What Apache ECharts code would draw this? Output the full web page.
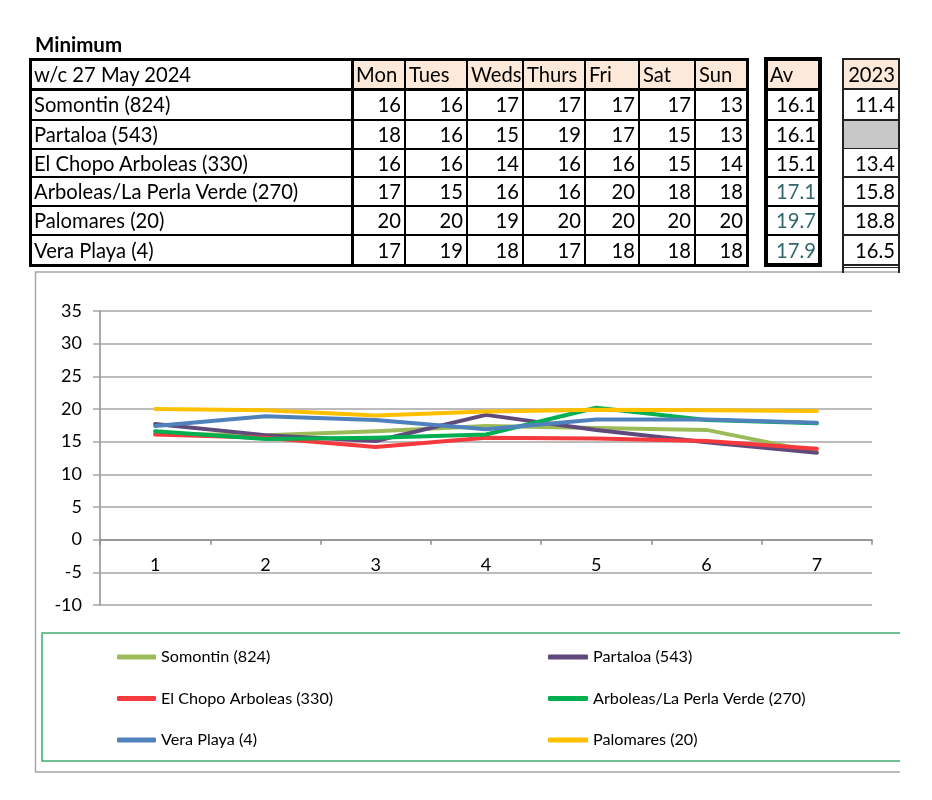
<!DOCTYPE html>
<html>
<head>
<meta charset="utf-8">
<script src="https://cdn.jsdelivr.net/npm/echarts@6/dist/echarts.min.js"></script>
<style>
  html, body { margin:0; padding:0; background:#fff; }
  #chart { position:absolute; left:0; top:0; width:932px; height:800px; }
  #tables { position:absolute; left:0; top:0; width:932px; height:272px; font-family:Lato, sans-serif; z-index:2; }
</style>
</head>
<body>
<div id="chart"></div>
<div id="tables"></div>
<script>
// ---------- data ----------
const title = 'Minimum';
const weekLabel = 'w/c 27 May 2024';
const days = ['Mon', 'Tues', 'Weds', 'Thurs', 'Fri', 'Sat', 'Sun'];
const xLabels = ['1', '2', '3', '4', '5', '6', '7'];
const stations = ['Somontin (824)', 'Partaloa (543)', 'El Chopo Arboleas (330)',
                  'Arboleas/La Perla Verde (270)', 'Palomares (20)', 'Vera Playa (4)'];

// table values as displayed
const tblSomontin  = [16, 16, 17, 17, 17, 17, 13];
const tblPartaloa  = [18, 16, 15, 19, 17, 15, 13];
const tblElChopo   = [16, 16, 14, 16, 16, 15, 14];
const tblArboleas  = [17, 15, 16, 16, 20, 18, 18];
const tblPalomares = [20, 20, 19, 20, 20, 20, 20];
const tblVera      = [17, 19, 18, 17, 18, 18, 18];
const averages     = ['16.1', '16.1', '15.1', '17.1', '19.7', '17.9'];
const year2023     = ['11.4', null, '13.4', '15.8', '18.8', '16.5'];

// chart values (as plotted)
const somontin  = [16.2, 16.0, 16.6, 17.4, 17.1, 16.8, 13.4];
const partaloa  = [17.7, 16.0, 15.1, 19.1, 16.8, 14.9, 13.3];
const elChopo   = [16.1, 15.6, 14.2, 15.6, 15.5, 15.1, 13.9];
const arboleas  = [16.6, 15.4, 15.6, 16.1, 20.2, 18.3, 17.8];
const palomares = [20.0, 19.8, 19.0, 19.6, 19.9, 19.8, 19.7];
const vera      = [17.4, 18.9, 18.3, 16.9, 18.4, 18.4, 17.9];

// ---------- tables (HTML) ----------
const root = document.getElementById('tables');
function addDiv(css, text) {
  const d = document.createElement('div');
  d.style.cssText = 'position:absolute;' + css;
  if (text != null) d.textContent = text;
  root.appendChild(d);
  return d;
}
function drawTable(xs, ys, rows, opt) {
  for (let r = 0; r < rows.length; r++) {
    for (let c = 0; c < rows[r].length; c++) {
      const cl = rows[r][c];
      const x = xs[c], y = ys[r], w = xs[c + 1] - xs[c], h = ys[r + 1] - ys[r];
      if (cl.fill) addDiv(`left:${x}px;top:${y}px;width:${w}px;height:${h}px;background:${cl.fill}`);
      if (cl.t != null) {
        addDiv(`left:${x + 4}px;top:${y}px;width:${w - 8}px;height:${h}px;line-height:${h}px;` +
               `text-align:${cl.align || 'left'};color:${cl.color || '#000'};font-size:20.2px;white-space:nowrap;overflow:visible`, cl.t);
      }
    }
  }
  const x0 = xs[0], x1 = xs[xs.length - 1], y0 = ys[0], y1 = ys[ys.length - 1];
  const vOut0 = opt.v[0] / 2, vOut1 = opt.v[opt.v.length - 1] / 2;
  const hOut0 = opt.h[0] / 2, hOut1 = opt.h[opt.h.length - 1] / 2;
  ys.forEach((y, i) => {
    const t = opt.h[i];
    addDiv(`left:${x0 - vOut0}px;top:${y - t / 2}px;width:${x1 - x0 + vOut0 + vOut1}px;height:${t}px;background:${opt.color}`);
  });
  const yEnd = (opt.extend || y1);
  xs.forEach((x, i) => {
    const t = opt.v[i];
    addDiv(`left:${x - t / 2}px;top:${y0 - hOut0}px;width:${t}px;height:${yEnd - y0 + hOut0 + (opt.extend ? 0 : hOut1)}px;background:${opt.color}`);
  });
}

addDiv('left:35px;top:32px;font-size:20.5px;font-weight:bold;line-height:24px;color:#000', title);

const HDR = '#fde9d9';
const ys = [59, 89, 120, 148.5, 177, 206, 235, 265];
const tableRows = [tblSomontin, tblPartaloa, tblElChopo, tblArboleas, tblPalomares, tblVera];

// main table
const mainXs = [30, 352, 405, 467, 523, 585, 639, 695, 747];
const mainRows = [[{ t: weekLabel }].concat(days.map(d => ({ t: d, fill: HDR })))];
stations.forEach((s, i) => {
  mainRows.push([{ t: s }].concat(tableRows[i].map(v => ({ t: String(v), align: 'right' }))));
});
drawTable(mainXs, ys, mainRows, { h: [3, 3, 2, 2, 2, 2, 2, 3], v: [3, 3, 2, 2, 2, 2, 2, 2, 3], color: '#000' });

// average table
const avRows = [[{ t: 'Av', fill: HDR }]];
averages.forEach((a, i) => avRows.push([{ t: a, align: 'right', color: i >= 3 ? '#31676a' : '#000' }]));
drawTable([766, 820], ys, avRows, { h: [3.5, 3, 2, 2, 2, 2, 2, 3.5], v: [3.5, 3.5], color: '#000' });

// 2023 table
const yrRows = [[{ t: '2023', fill: HDR, align: 'right' }]];
year2023.forEach(v => yrRows.push([v == null ? { fill: '#c8c8c8' } : { t: v, align: 'right' }]));
drawTable([843, 899], ys, yrRows, { h: [1.5, 1.5, 1.5, 1.5, 1.5, 1.5, 1.5, 1.5], v: [1.5, 1.5], color: '#222', extend: 273 });
addDiv('left:843px;top:266.5px;width:56px;height:1.5px;background:#222');

// ---------- chart ----------
const chart = echarts.init(document.getElementById('chart'), null, { renderer: 'canvas' });
const seriesDefs = [
  { name: stations[0], data: somontin,  color: '#9bbb59' },
  { name: stations[1], data: partaloa,  color: '#604a7b' },
  { name: stations[2], data: elChopo,   color: '#f5393c' },
  { name: stations[3], data: arboleas,  color: '#00b050' },
  { name: stations[5], data: vera,      color: '#4f81bd' },
  { name: stations[4], data: palomares, color: '#ffc000' }
];
const legendCommon = {
  orient: 'vertical',
  icon: 'roundRect',
  itemHeight: 5,
  itemGap: 23.5,
  padding: 0,
  selectedMode: false,
  textStyle: { fontFamily: 'Lato', fontSize: 16.2, color: '#000', lineHeight: 18 }
};
const option = {
  animation: false,
  textStyle: { fontFamily: 'Lato' },
  grid: { left: 100, right: 60, top: 311, bottom: 195 },
  graphic: [
    { type: 'polyline', silent: true, z: -10,
      shape: { points: [[900, 272], [35.5, 272], [35.5, 772], [900, 772]] },
      style: { stroke: '#a6a6a6', lineWidth: 1.5, fill: null } },
    { type: 'polyline', silent: true, z: -10,
      shape: { points: [[900, 633], [42, 633], [42, 761], [900, 761]] },
      style: { stroke: '#3fae6e', lineWidth: 1.5, fill: null } }
  ],
  legend: [
    Object.assign({ left: 117, top: 648, itemWidth: 39, data: [stations[0], stations[2], stations[5]] }, legendCommon),
    Object.assign({ left: 548, top: 648, itemWidth: 40, data: [stations[1], stations[3], stations[4]] }, legendCommon)
  ],
  xAxis: {
    type: 'category',
    data: xLabels,
    boundaryGap: true,
    axisLine: { onZero: true, lineStyle: { color: '#8c8c8c', width: 1.5 } },
    axisTick: { show: true, length: 5, lineStyle: { color: '#8c8c8c', width: 1.5 } },
    axisLabel: { color: '#000', fontSize: 18, margin: -49 },
    splitLine: { show: false }
  },
  yAxis: {
    type: 'value',
    min: -10, max: 35, interval: 5,
    axisLine: { show: true, lineStyle: { color: '#8c8c8c', width: 1.5 } },
    axisTick: { show: true, length: 7, lineStyle: { color: '#a6a6a6', width: 1.5 } },
    axisLabel: { color: '#000', fontSize: 18, margin: 18 },
    splitLine: { lineStyle: { color: '#a6a6a6', width: 1.5 } }
  },
  series: seriesDefs.map(s => ({
    name: s.name,
    type: 'line',
    data: s.data,
    showSymbol: false,
    symbol: 'none',
    color: s.color,
    lineStyle: { width: 4, color: s.color, cap: 'round', join: 'round' },
    emphasis: { disabled: true }
  }))
};
chart.setOption(option);
</script>
</body>
</html>
